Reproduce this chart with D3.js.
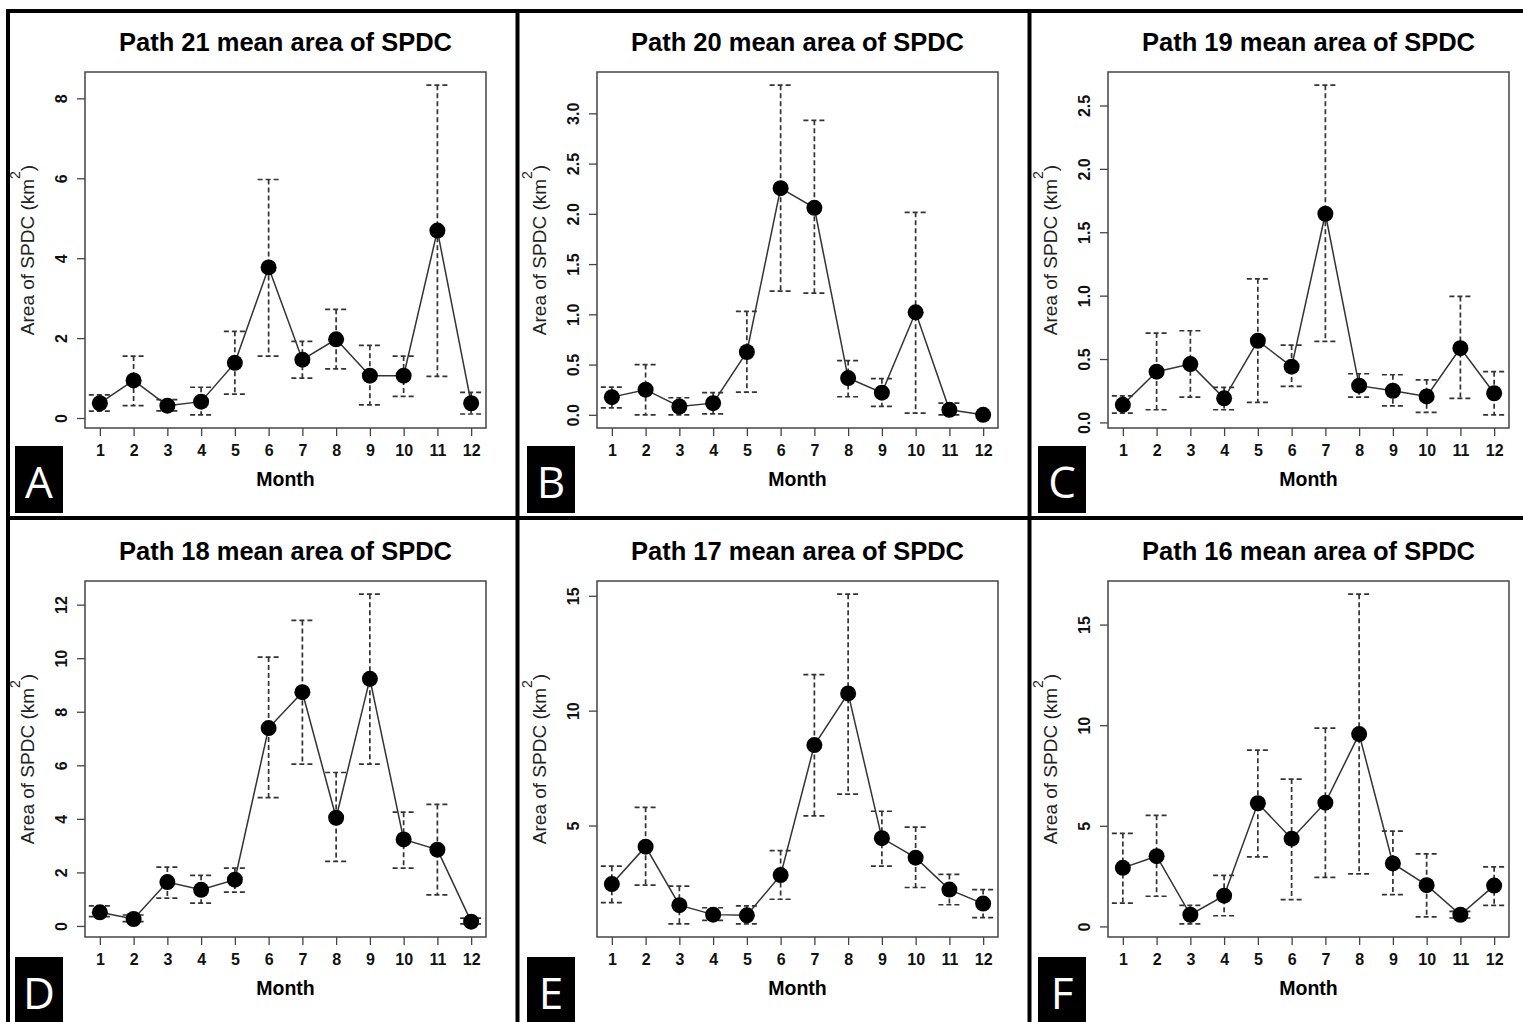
<!DOCTYPE html>
<html>
<head>
<meta charset="utf-8">
<script src="https://cdnjs.cloudflare.com/ajax/libs/d3/7.8.5/d3.min.js"></script>
<style>
    body { margin: 0; background: #fff; }
    svg { display: block; font-family: "Liberation Sans", Arial, sans-serif; }
</style>
</head>
<body>
<svg width="1523" height="1022"></svg>
<script>
// months on the x axis
const months = [1, 2, 3, 4, 5, 6, 7, 8, 9, 10, 11, 12];

const titles = ["Path 21 mean area of SPDC", "Path 20 mean area of SPDC", "Path 19 mean area of SPDC",
                "Path 18 mean area of SPDC", "Path 17 mean area of SPDC", "Path 16 mean area of SPDC"];
const letters = ["A", "B", "C", "D", "E", "F"];

// mean area + error bar ends
const meanP21 = [0.37, 0.94, 0.31, 0.41, 1.38, 3.77, 1.46, 1.97, 1.06, 1.06, 4.69, 0.37];
const hiP21   = [0.58, 1.55, 0.46, 0.77, 2.17, 5.97, 1.92, 2.72, 1.82, 1.55, 8.33, 0.64];
const loP21   = [0.17, 0.31, 0.18, 0.08, 0.60, 1.55, 1.00, 1.23, 0.33, 0.54, 1.04, 0.10];

const meanP20 = [0.176, 0.25, 0.083, 0.116, 0.625, 2.255, 2.06, 0.366, 0.22, 1.02, 0.05, 0.0];
const hiP20   = [0.276, 0.50, 0.17, 0.22, 1.03, 3.28, 2.93, 0.54, 0.36, 2.015, 0.116, 0.0];
const loP20   = [0.07, 0.0, 0.0, 0.01, 0.226, 1.23, 1.21, 0.18, 0.083, 0.017, 0.0, 0.0];

const meanP19 = [0.139, 0.40, 0.46, 0.19, 0.644, 0.44, 1.646, 0.29, 0.25, 0.205, 0.586, 0.23];
const hiP19   = [0.21, 0.705, 0.723, 0.276, 1.133, 0.61, 2.66, 0.384, 0.376, 0.336, 0.994, 0.40];
const loP19   = [0.074, 0.10, 0.20, 0.10, 0.158, 0.284, 0.64, 0.20, 0.13, 0.079, 0.19, 0.06];

const meanP18 = [0.51, 0.26, 1.64, 1.35, 1.73, 7.39, 8.73, 4.04, 9.23, 3.23, 2.85, 0.16];
const hiP18   = [0.75, 0.41, 2.20, 1.89, 2.16, 10.04, 11.41, 5.73, 12.39, 4.25, 4.54, 0.29];
const loP18   = [0.35, 0.16, 1.04, 0.85, 1.26, 4.79, 6.04, 2.41, 6.04, 2.16, 1.16, 0.08];

const meanP17 = [2.45, 4.08, 1.53, 1.12, 1.09, 2.84, 8.50, 10.75, 4.45, 3.60, 2.21, 1.60];
const hiP17   = [3.23, 5.79, 2.36, 1.42, 1.50, 3.91, 11.57, 15.07, 5.62, 4.93, 2.87, 2.21];
const loP17   = [1.64, 2.40, 0.72, 0.87, 0.72, 1.79, 5.42, 6.37, 3.23, 2.30, 1.55, 0.99];

const meanP16 = [2.91, 3.49, 0.58, 1.53, 6.12, 4.36, 6.15, 9.56, 3.13, 2.05, 0.58, 2.03];
const hiP16   = [4.62, 5.52, 1.05, 2.54, 8.76, 7.32, 9.85, 16.51, 4.74, 3.61, 0.75, 2.96];
const loP16   = [1.16, 1.50, 0.13, 0.53, 3.46, 1.33, 2.44, 2.61, 1.58, 0.47, 0.42, 1.05];

// y tick labels per panel
const ticksP21 = [0, 2, 4, 6, 8];
const ticksP20 = [0, 0.5, 1, 1.5, 2, 2.5, 3];
const ticksP19 = [0, 0.5, 1, 1.5, 2, 2.5];
const ticksP18 = [0, 2, 4, 6, 8, 10, 12];
const ticksP17 = [5, 10, 15];
const ticksP16 = [0, 5, 10, 15];

let panels = [
    { mean: meanP21, hi: hiP21, lo: loP21, ticks: ticksP21, fmt: d3.format("d") },
    { mean: meanP20, hi: hiP20, lo: loP20, ticks: ticksP20, fmt: d3.format(".1f") },
    { mean: meanP19, hi: hiP19, lo: loP19, ticks: ticksP19, fmt: d3.format(".1f") },
    { mean: meanP18, hi: hiP18, lo: loP18, ticks: ticksP18, fmt: d3.format("d") },
    { mean: meanP17, hi: hiP17, lo: loP17, ticks: ticksP17, fmt: d3.format("d") },
    { mean: meanP16, hi: hiP16, lo: loP16, ticks: ticksP16, fmt: d3.format("d") }
];

let svg = d3.select("svg");

// layout
let colLeft = [85, 597, 1108], rowTop = [72, 581], labelTop = [446, 957];
let boxW = 401, boxH = 356;

// R style 4% axis padding
function padded(ext) {
    let p = (ext[1] - ext[0]) * 0.04;
    return [ext[0] - p, ext[1] + p];
}

panels.forEach((p, k) => {
    let L = colLeft[k % 3], T = rowTop[Math.floor(k / 3)];
    let g = svg.append("g");

    let x = d3.scaleLinear().domain(padded(d3.extent(months))).range([L, L + boxW]);
    let y = d3.scaleLinear().domain(padded(d3.extent(p.lo.concat(p.hi, p.mean)))).range([T + boxH, T]);

    g.append("rect")
        .attr("x", L).attr("y", T).attr("width", boxW).attr("height", boxH)
        .attr("fill", "none").attr("stroke", "#444").attr("stroke-width", 1.5);

    // x axis
    let xa = g.append("g")
        .attr("transform", "translate(0," + (T + boxH) + ")")
        .call(d3.axisBottom(x).tickValues(months).tickSize(8).tickFormat(d3.format("d")))
        .attr("font-size", 16).attr("font-family", "Liberation Sans, Arial, sans-serif");
    xa.select(".domain").remove();
    xa.selectAll("line").attr("stroke", "#444").attr("stroke-width", 1.3);
    xa.selectAll("text")
        .attr("y", 28).attr("dy", null)
        .attr("font-weight", "bold").attr("fill", "#111");

    // y axis, labels rotated like R's default
    let ya = g.append("g")
        .attr("transform", "translate(" + L + ",0)")
        .call(d3.axisLeft(y).tickValues(p.ticks).tickSize(8).tickFormat(p.fmt))
        .attr("font-size", 16).attr("font-family", "Liberation Sans, Arial, sans-serif");
    ya.select(".domain").remove();
    ya.selectAll("line").attr("stroke", "#444").attr("stroke-width", 1.3);
    ya.selectAll("text")
        .attr("x", 0).attr("y", -18).attr("dy", null)
        .attr("text-anchor", "middle")
        .attr("transform", "rotate(-90)")
        .attr("font-weight", "bold").attr("fill", "#111");

    // error bars (dashed) with dashed caps
    let bars = months.map((m, i) => ({ m: m, lo: p.lo[i], hi: p.hi[i] })).filter(d => d.hi > d.lo);
    let eb = g.append("g")
        .attr("stroke", "#333").attr("stroke-width", 1.7).attr("stroke-dasharray", "5,3").attr("fill", "none");
    eb.selectAll(".v").data(bars).enter().append("line")
        .attr("x1", d => x(d.m)).attr("x2", d => x(d.m))
        .attr("y1", d => y(d.hi)).attr("y2", d => y(d.lo));
    eb.selectAll(".ch").data(bars).enter().append("line")
        .attr("x1", d => x(d.m) - 11).attr("x2", d => x(d.m) + 11)
        .attr("y1", d => y(d.hi)).attr("y2", d => y(d.hi));
    eb.selectAll(".cl").data(bars).enter().append("line")
        .attr("x1", d => x(d.m) - 11).attr("x2", d => x(d.m) + 11)
        .attr("y1", d => y(d.lo)).attr("y2", d => y(d.lo));

    // mean line + points
    let line = d3.line().x((d, i) => x(months[i])).y(d => y(d));
    g.append("path")
        .attr("d", line(p.mean))
        .attr("fill", "none").attr("stroke", "#333").attr("stroke-width", 1.5);
    g.selectAll("circle").data(p.mean).enter().append("circle")
        .attr("cx", (d, i) => x(months[i])).attr("cy", d => y(d))
        .attr("r", 8).attr("fill", "#000");

    // texts
    g.append("text")
        .attr("x", L + boxW / 2).attr("y", T - 21)
        .attr("text-anchor", "middle").attr("font-size", 25.5).attr("font-weight", "bold")
        .text(titles[k]);

    g.append("text")
        .attr("x", L + boxW / 2).attr("y", T + boxH + 58)
        .attr("text-anchor", "middle").attr("font-size", 19.5).attr("font-weight", "bold")
        .text("Month");

    let yl = g.append("text")
        .attr("transform", "translate(" + (L - 51) + "," + (T + boxH / 2) + ") rotate(-90)")
        .attr("text-anchor", "middle").attr("font-size", 19).attr("fill", "#222");
    yl.append("tspan").text("Area of SPDC (km");
    yl.append("tspan").attr("dy", -14).attr("font-size", 14).text("2");
    yl.append("tspan").attr("dy", 14).text(")");

    // panel letter box
    let bx = L - 70, by = labelTop[Math.floor(k / 3)];
    g.append("rect").attr("x", bx).attr("y", by).attr("width", 48).attr("height", 67).attr("fill", "#000");
    g.append("text")
        .attr("x", bx + 24).attr("y", by + 52)
        .attr("text-anchor", "middle").attr("font-size", 44).attr("fill", "#fff")
        .attr("font-family", "Open Sans, sans-serif")
        .text(letters[k]);
});

// panel frame lines
let frame = svg.append("g").attr("stroke", "#000").attr("stroke-width", 4).attr("fill", "none");
frame.append("rect").attr("x", 8).attr("y", 11).attr("width", 1530).attr("height", 1030);
frame.append("line").attr("x1", 517.5).attr("x2", 517.5).attr("y1", 11).attr("y2", 1022);
frame.append("line").attr("x1", 1029.5).attr("x2", 1029.5).attr("y1", 11).attr("y2", 1022);
frame.append("line").attr("x1", 8).attr("x2", 1523).attr("y1", 518).attr("y2", 518);
</script>
</body>
</html>
